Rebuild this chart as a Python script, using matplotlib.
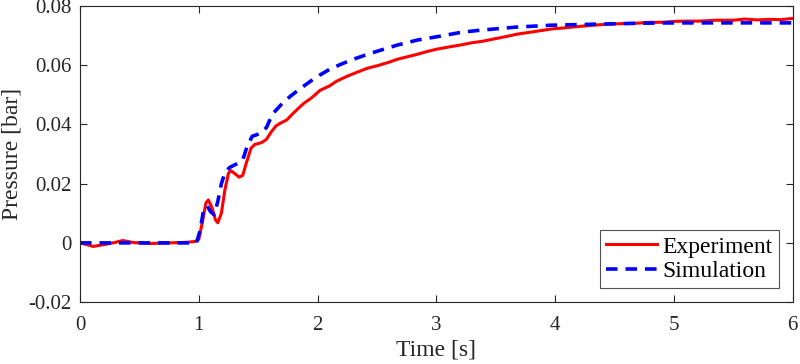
import matplotlib
matplotlib.use("Agg")
import matplotlib.pyplot as plt

# Experiment data
t_exp = [0, 0.05, 0.11, 0.2, 0.3, 0.36, 0.45, 0.6, 0.75, 0.9, 0.97, 1.0, 1.03, 1.06, 1.08,
         1.11, 1.14, 1.16, 1.19, 1.22, 1.25, 1.27, 1.30, 1.34, 1.37, 1.40, 1.44, 1.47, 1.53,
         1.57, 1.61, 1.65, 1.69, 1.74, 1.8, 1.88, 1.95, 2.02, 2.1, 2.16, 2.25, 2.33, 2.42, 2.5,
         2.6, 2.67, 2.75, 2.84, 2.92, 3.0, 3.11, 3.2, 3.3, 3.39, 3.5, 3.6, 3.68, 3.8, 3.96,
         4.1, 4.23, 4.35, 4.46, 4.6, 4.69, 4.8, 4.9, 5.0, 5.1, 5.22, 5.35, 5.5, 5.6, 5.7,
         5.8, 5.9, 6.0]
p_exp = [0, -0.0005, -0.0012, -0.0006, 0.0002, 0.0008, 0.0001, -0.0002, 0, 0.0002, 0.0005,
         0.0012, 0.007, 0.0135, 0.0145, 0.012, 0.0078, 0.0068, 0.010, 0.018, 0.0235, 0.0244,
         0.0235, 0.0222, 0.0228, 0.027, 0.032, 0.0332, 0.0339, 0.035, 0.0375, 0.0395, 0.0405,
         0.0415, 0.044, 0.047, 0.049, 0.0515, 0.053, 0.0546, 0.0563, 0.0576, 0.059, 0.0598,
         0.061, 0.062, 0.0628, 0.0637, 0.0646, 0.0654, 0.0662, 0.0668, 0.0676, 0.0681, 0.069,
         0.0698, 0.0705, 0.0712, 0.0722, 0.0727, 0.0732, 0.0736, 0.0739, 0.0741, 0.0742,
         0.0745, 0.0745, 0.0748, 0.0749, 0.0749, 0.0752, 0.0752, 0.0756, 0.0753, 0.0755,
         0.0754, 0.0758]

# Simulation data
t_sim = [0, 0.5, 0.98, 1.01, 1.04, 1.07, 1.10, 1.13, 1.16, 1.19, 1.22, 1.26, 1.31, 1.37,
         1.41, 1.45, 1.52, 1.57, 1.62, 1.7, 1.77, 1.85, 1.94, 2.02, 2.1, 2.2, 2.3, 2.4, 2.5,
         2.67, 2.84, 3.03, 3.22, 3.39, 3.68, 3.96, 4.38, 4.74, 5.0, 5.5, 6.0]
p_sim = [0, 0, 0, 0.004, 0.011, 0.0125, 0.0105, 0.0095, 0.014, 0.02, 0.0237, 0.0255, 0.0265,
         0.028, 0.033, 0.036, 0.037, 0.039, 0.0435, 0.047, 0.0495, 0.052, 0.0546, 0.0567,
         0.0586, 0.0604, 0.062, 0.0634, 0.0647, 0.0668, 0.0685, 0.0698, 0.0712, 0.0719,
         0.0729, 0.0735, 0.0739, 0.0742, 0.0743, 0.0743, 0.0743]

x_ticks = [0, 1, 2, 3, 4, 5, 6]
y_ticks = [-0.02, 0, 0.02, 0.04, 0.06, 0.08]
y_tick_labels = ["-0.02", "0", "0.02", "0.04", "0.06", "0.08"]

plt.rcParams['font.family'] = ['Liberation Serif', 'DejaVu Serif']

fig = plt.figure(figsize=(8, 3.64), dpi=100)
ax = fig.add_axes([0.1, 0.170, 0.891, 0.8135])

ax.plot(t_exp, p_exp, color='#ff0000', lw=2.2, label='Experiment')
ax.plot(t_sim, p_sim, color='#0000ff', lw=2.6, linestyle=(0, (3.2, 2.2)), label='Simulation')

ax.set_xlim(0, 6)
ax.set_ylim(-0.02, 0.08)
ax.set_xticks(x_ticks)
ax.set_xticklabels([str(v) for v in x_ticks])
ax.set_yticks(y_ticks)
ax.set_yticklabels(y_tick_labels)

ax.tick_params(direction='in', top=True, right=True, length=5, width=0.8,
               labelsize=15, colors='#262626')
ax.tick_params(axis='x', pad=10)
ax.tick_params(axis='y', pad=6)
for s in ax.spines.values():
    s.set_color('#262626')
    s.set_linewidth(0.8)

ax.set_xlabel('Time [s]', fontsize=17, color='#262626', labelpad=3)
ax.set_ylabel('Pressure [bar]', fontsize=17, color='#262626', labelpad=4)

leg = ax.legend(loc='lower right', fontsize=17, frameon=True, fancybox=False,
                edgecolor='#262626', borderaxespad=0.6, handlelength=2.16,
                handletextpad=0.25, borderpad=0.25, labelspacing=0.12)
leg.get_frame().set_linewidth(0.8)

fig.savefig('out.png', dpi=100)
